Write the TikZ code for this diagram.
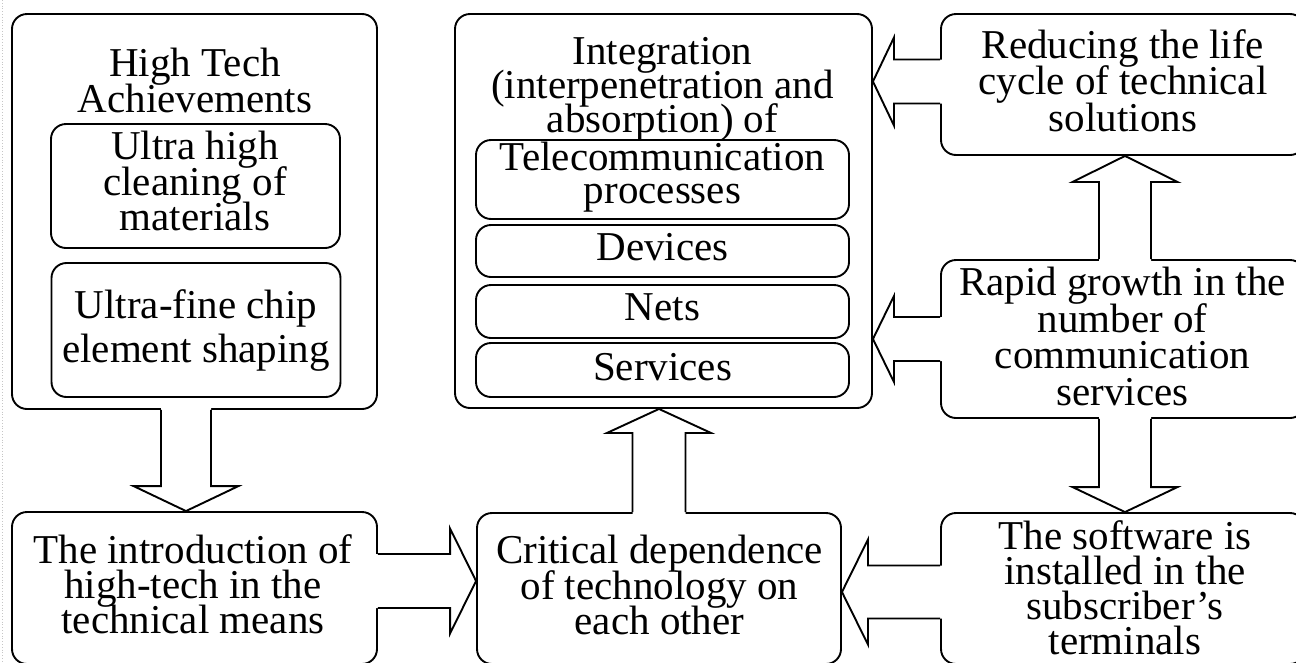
\documentclass[tikz,border=0pt]{standalone}
\usepackage{fontspec}
\setmainfont{Liberation Serif}
\usetikzlibrary{calc}

% tight leading: always keep the given baseline distance
\newcommand\tightlines{\lineskiplimit=-100pt\lineskip=0pt}

\tikzset{
  box/.style={draw, line width=1.9pt, rounded corners=15pt, inner sep=0pt},
  txt/.style={inner sep=0pt, align=center, font=\fontsize{41}{36}\selectfont\tightlines},
  lead/.style={font=\fontsize{41}{#1}\selectfont\tightlines},
  arrowline/.style={line width=1.9pt, line join=miter},
}

% Hollow block arrow: #1 tail, #2 tip, #3 half shaft width,
% #4 half head width, #5 head length
\newcommand\blockarrow[5]{%
  \coordinate (bt) at (#1);
  \coordinate (bp) at (#2);
  \coordinate (bh) at ($(bp)!#5!(bt)$);
  \coordinate (bb) at ($(bt)!-2pt!(bp)$);
  \fill[white] ($(bb)!#3!90:(bp)$) -- ($(bh)!#3!-90:(bt)$) -- ($(bh)!#4!-90:(bt)$)
    -- (bp) -- ($(bh)!#4!90:(bt)$) -- ($(bh)!#3!90:(bt)$) -- ($(bb)!#3!-90:(bp)$) -- cycle;
  \draw[arrowline] ($(bt)!#3!90:(bp)$) -- ($(bh)!#3!-90:(bt)$) -- ($(bh)!#4!-90:(bt)$)
    -- (bp) -- ($(bh)!#4!90:(bt)$) -- ($(bh)!#3!90:(bt)$) -- ($(bt)!#3!-90:(bp)$);
}

\begin{document}
\begin{tikzpicture}[x=1pt,y=-1pt]
\useasboundingbox (0,0) rectangle (1296,662);
\clip (0,0) rectangle (1296,662);
\fill[white] (0,0) rectangle (1296,662);
\draw[gray!45, dotted, line width=0.8pt] (2,0) -- (2,662);

% left column
\node[box, minimum width=365pt, minimum height=395pt] (A) at (194.5,211.5) {};
\node[txt, lead=36] (Atitle) at (195,80) {High Tech\\Achievements};
\node[box, minimum width=289pt, minimum height=124pt] (A1) at (195.5,186) {};
\node[txt, lead=35.5] (A1t) at (195,181)
  {Ultra high\\cleaning of\\materials};
\node[box, minimum width=289pt, minimum height=134pt] (A2) at (196,330) {};
\node[txt, lead=44] (A2t) at (196,330)
  {Ultra-fine chip\\element shaping};
\node[box, minimum width=365pt, minimum height=152pt] (B) at (194.5,588) {};
\node[txt, lead=35] (Bt) at (193,584)
  {The introduction of\\high-tech in the\\technical means};

% middle column
\node[box, minimum width=417pt, minimum height=394pt] (D) at (663.5,211) {};
\node[txt, lead=34] (Dtitle) at (662.5,89)
  {Integration\\(interpenetration and\\absorption) of};
\node[box, minimum width=373pt, minimum height=79pt] (D1) at (662.5,179.5) {};
\node[txt, lead=33] (D1t) at (662.5,177.5)
  {Telecommunication\\processes};
\node[box, minimum width=373pt, minimum height=52pt] (D2) at (662.5,251) {};
\node[txt] (D2t) at (662.5,247.5) {Devices};
\node[box, minimum width=373pt, minimum height=53pt] (D3) at (662.5,311.5) {};
\node[txt] (D3t) at (662.5,307.5) {Nets};
\node[box, minimum width=373pt, minimum height=54pt] (D4) at (662.5,370) {};
\node[txt] (D4t) at (662.5,367) {Services};
\node[box, minimum width=364pt, minimum height=151pt] (C) at (659,588.5) {};
\node[txt, lead=35.5] (Ct) at (659.5,585)
  {Critical dependence\\of technology on\\each other};

% right column
\node[box, minimum width=364pt, minimum height=141pt] (E) at (1123,84.5) {};
\node[txt, lead=36.5] (Et) at (1123,80.5)
  {Reducing the life\\cycle of technical\\solutions};
\node[box, minimum width=364pt, minimum height=158pt] (F) at (1123,339) {};
\node[txt, lead=36.5] (Ft) at (1122.5,336.5)
  {Rapid growth in the\\number of\\communication\\services};
\node[box, minimum width=364pt, minimum height=151pt] (G) at (1123,588.5) {};
\node[txt, lead=35] (Gt) at (1125,587.5)
  {The software is\\installed in the\\subscriber's\\terminals};

% connectors
\blockarrow{[xshift=-8.5pt]A.south}{[xshift=-8.5pt]B.north}{25pt}{52.5pt}{25pt}
\coordinate (bc) at ([yshift=7pt]B.east);
\blockarrow{bc}{bc -| C.west}{27pt}{52.5pt}{26pt}
\blockarrow{C.north}{C.north |- D.south}{26.5pt}{52pt}{24pt}
\coordinate (ed) at ([yshift=3pt]E.west);
\blockarrow{ed}{ed -| D.east}{22pt}{44pt}{21pt}
\blockarrow{F.west}{F.west -| D.east}{22pt}{43pt}{21pt}
\blockarrow{[xshift=2pt]F.north}{[xshift=2pt]E.south}{26pt}{52.5pt}{26pt}
\blockarrow{[xshift=2pt]F.south}{[xshift=2pt]G.north}{26pt}{52.5pt}{25pt}
\coordinate (gc) at ([yshift=-3.5pt]G.west);
\blockarrow{gc}{gc -| C.east}{26.5pt}{52.5pt}{26pt}
\end{tikzpicture}
\end{document}
